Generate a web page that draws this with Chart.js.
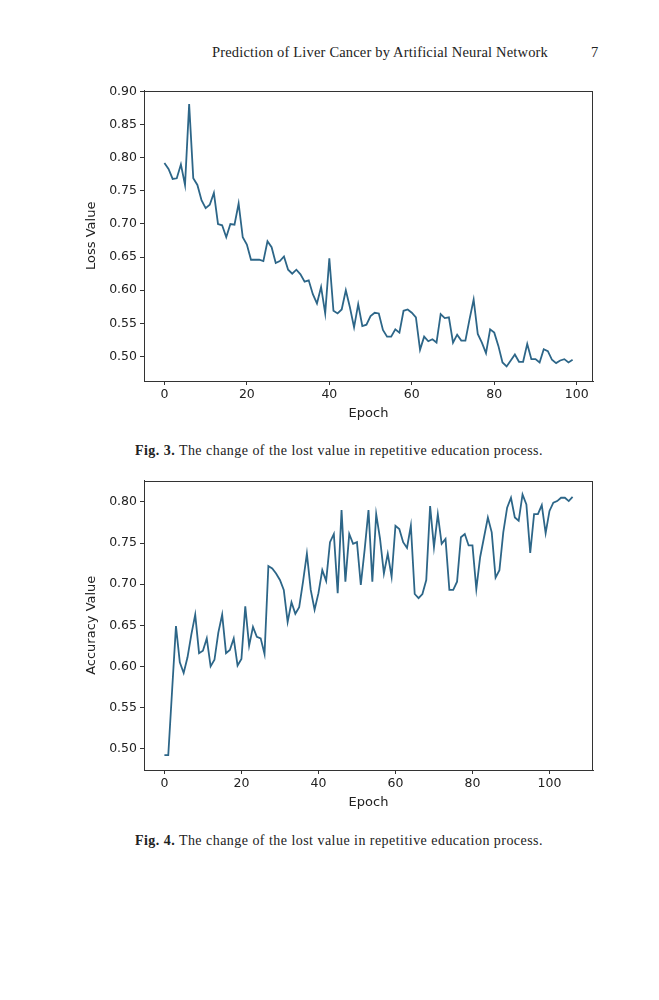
<!DOCTYPE html>
<html>
<head>
<meta charset="utf-8">
<script src="https://cdn.jsdelivr.net/npm/chart.js@4.4.1/dist/chart.umd.min.js"></script>
<style>
  html, body { margin: 0; padding: 0; background: #fff; }
  body { width: 659px; height: 1000px; position: relative; overflow: hidden; }
  .serif { font-family: "Liberation Serif", "DejaVu Serif", serif; color: #222; position: absolute; white-space: nowrap; }
  #header { left: 212px; top: 43px; font-size: 14.5px; line-height: 18px; }
  #pageno { left: 591px; top: 43px; font-size: 14.5px; line-height: 18px; }
  .cap { left: 135px; font-size: 14px; line-height: 18px; }
  #cap1 { top: 442px; }
  #cap2 { top: 832px; }
  .wrap { position: absolute; left: 0; width: 600px; }
  #w1 { top: 80px; height: 341px; }
  #w2 { top: 470px; height: 340px; }
</style>
</head>
<body>
<div id="header" class="serif">Prediction of Liver Cancer by Artificial Neural Network</div>
<div id="pageno" class="serif">7</div>
<div class="wrap" id="w1"><canvas id="c1"></canvas></div>
<div id="cap1" class="serif cap"><b>Fig. 3.</b> The change of the lost value in repetitive education process.</div>
<div class="wrap" id="w2"><canvas id="c2"></canvas></div>
<div id="cap2" class="serif cap"><b>Fig. 4.</b> The change of the lost value in repetitive education process.</div>
<script>
// ---- data ----
const lossValues = [
  0.792, 0.783, 0.768, 0.769, 0.790, 0.759, 0.881, 0.769, 0.759, 0.736,
  0.724, 0.729, 0.747, 0.700, 0.698, 0.680, 0.700, 0.699, 0.731, 0.680,
  0.669, 0.646, 0.646, 0.646, 0.644, 0.674, 0.665, 0.641, 0.644, 0.651,
  0.631, 0.625, 0.631, 0.624, 0.613, 0.615, 0.594, 0.580, 0.605, 0.565,
  0.648, 0.569, 0.565, 0.571, 0.600, 0.574, 0.544, 0.579, 0.546, 0.548,
  0.561, 0.566, 0.565, 0.540, 0.530, 0.530, 0.541, 0.536, 0.569, 0.571,
  0.566, 0.559, 0.510, 0.530, 0.523, 0.526, 0.521, 0.564, 0.558, 0.559,
  0.521, 0.533, 0.524, 0.524, 0.556, 0.586, 0.534, 0.521, 0.505, 0.541,
  0.536, 0.516, 0.491, 0.485, 0.494, 0.503, 0.492, 0.492, 0.519, 0.496,
  0.496, 0.491, 0.511, 0.508, 0.495, 0.490, 0.494, 0.496, 0.491, 0.495
];
const accuracyValues = [
  0.492, 0.492, 0.571, 0.649, 0.605, 0.592, 0.611, 0.639, 0.663, 0.616,
  0.619, 0.634, 0.600, 0.608, 0.641, 0.663, 0.616, 0.620, 0.634, 0.601,
  0.609, 0.673, 0.625, 0.648, 0.636, 0.634, 0.615, 0.722, 0.719, 0.713,
  0.705, 0.693, 0.654, 0.678, 0.664, 0.672, 0.703, 0.737, 0.693, 0.669,
  0.689, 0.717, 0.704, 0.751, 0.761, 0.689, 0.790, 0.703, 0.761, 0.749,
  0.751, 0.699, 0.742, 0.790, 0.703, 0.785, 0.755, 0.713, 0.737, 0.709,
  0.771, 0.767, 0.751, 0.744, 0.771, 0.688, 0.683, 0.688, 0.705, 0.795,
  0.745, 0.785, 0.749, 0.755, 0.693, 0.693, 0.703, 0.757, 0.761, 0.747,
  0.747, 0.694, 0.733, 0.757, 0.781, 0.763, 0.708, 0.717, 0.763, 0.793,
  0.805, 0.781, 0.777, 0.809, 0.797, 0.738, 0.785, 0.785, 0.796, 0.762,
  0.789, 0.799, 0.801, 0.805, 0.805, 0.801, 0.806
];
const lossEpochs = lossValues.map((_, i) => i);
const accuracyEpochs = accuracyValues.map((_, i) => i);
const epochTicks = [0, 20, 40, 60, 80, 100];
const lossTicks = [0.50, 0.55, 0.60, 0.65, 0.70, 0.75, 0.80, 0.85, 0.90];
const accuracyTicks = [0.50, 0.55, 0.60, 0.65, 0.70, 0.75, 0.80];
const xTitle = 'Epoch';
const lossTitle = 'Loss Value';
const accuracyTitle = 'Accuracy Value';

// ---- fit serif text widths to the page layout ----
function fitWidth(id, target) {
  const el = document.getElementById(id);
  const n = el.textContent.length;
  const w = el.getBoundingClientRect().width;
  el.style.letterSpacing = ((target - w) / n) + 'px';
}
fitWidth('header', 336);
fitWidth('cap1', 408);
fitWidth('cap2', 408);

// ---- styling ----
const LINE = '#2d6688';
const AXIS = '#333';
const TEXT = '#222';
const SANS = '"DejaVu Sans", sans-serif';

const framePlugin = {
  id: 'frame',
  afterDraw(chart) {
    const a = chart.chartArea, ctx = chart.ctx;
    ctx.save();
    ctx.strokeStyle = AXIS;
    ctx.lineWidth = 1;
    ctx.strokeRect(Math.round(a.left) + 0.5, Math.round(a.top) + 0.5,
                   Math.round(a.right - a.left) - 1, Math.round(a.bottom - a.top) - 1);
    ctx.restore();
  }
};

function makeChart(id, epochs, values, yTicks, yTitleText, yMin, yMax, xMin, xMax, padTop) {
  const pts = values.map((v, i) => ({ x: epochs[i], y: v }));
  return new Chart(document.getElementById(id), {
    type: 'line',
    data: { datasets: [{ data: pts, borderColor: LINE, borderWidth: 1.8,
      pointRadius: 0, tension: 0, fill: false }] },
    options: {
      responsive: true, maintainAspectRatio: false, animation: false,
      layout: { padding: { top: padTop, right: 7, bottom: 0, left: 0 } },
      plugins: { legend: { display: false }, tooltip: { enabled: false } },
      scales: {
        x: {
          type: 'linear', min: xMin, max: xMax,
          afterBuildTicks: s => { s.ticks = epochTicks.map(v => ({ value: v })); },
          afterFit: s => { s.height = 40; },
          grid: { display: true, drawOnChartArea: false, drawTicks: true, tickLength: 4, color: AXIS },
          border: { display: true, color: AXIS, width: 1 },
          ticks: { color: TEXT, font: { family: SANS, size: 12.5 }, padding: 2, maxRotation: 0, autoSkip: false },
          title: { display: true, text: xTitle, color: TEXT, font: { family: SANS, size: 13 }, padding: { top: 0, bottom: 0 } }
        },
        y: {
          type: 'linear', min: yMin, max: yMax,
          afterBuildTicks: s => { s.ticks = yTicks.map(v => ({ value: v })); },
          afterFit: s => { s.width = 144; },
          grid: { display: true, drawOnChartArea: false, drawTicks: true, tickLength: 4, color: AXIS },
          border: { display: true, color: AXIS, width: 1 },
          ticks: { color: TEXT, font: { family: SANS, size: 12.5 }, padding: 3, autoSkip: false,
                   callback: v => Number(v).toFixed(2) },
          title: { display: true, text: yTitleText, color: TEXT, font: { family: SANS, size: 13 }, padding: { top: 84, bottom: 0 } }
        }
      }
    },
    plugins: [framePlugin]
  });
}

makeChart('c1', lossEpochs, lossValues, lossTicks, lossTitle, 0.463, 0.9015, -4.95, 103.95, 8.5);
makeChart('c2', accuracyEpochs, accuracyValues, accuracyTicks, accuracyTitle, 0.474, 0.826, -5.3, 111.3, 7.5);
</script>
</body>
</html>
